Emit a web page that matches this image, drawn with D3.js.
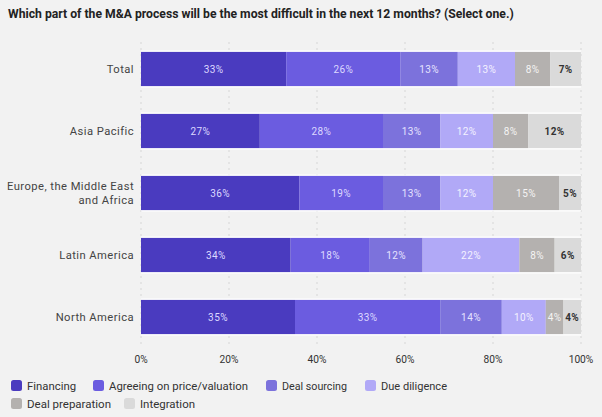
<!DOCTYPE html>
<html><head><meta charset="utf-8">
<script src="https://cdn.jsdelivr.net/npm/d3@7"></script>
<style>
body{margin:0;background:#f2f2f2;}
svg{display:block;font-family:Roboto, "Noto Sans", sans-serif;}
</style></head><body>
<svg id="c" width="602" height="417"></svg>
<script>
const categories = ["Total","Asia Pacific","Europe, the Middle East|and Africa","Latin America","North America"];
const seriesNames = ["Financing","Agreeing on price/valuation","Deal sourcing","Due diligence","Deal preparation","Integration"];
const financing = [33,27,36,34,35];
const agreeing = [26,28,19,18,33];
const sourcing = [13,13,13,12,14];
const diligence = [13,12,12,22,10];
const preparation = [8,8,15,8,4];
const integration = [7,12,5,6,4];
const ticks = [0,20,40,60,80,100];
const colors = ["#4a3bbf","#6b5ce0","#7c72dc","#b1a9f7","#b4b1af","#dadada"];
const labelColors = ["#ddd9ff","#ddd9ff","#e6e3ff","#f4f2ff","#f4f4f4","#333"];

const svg = d3.select("#c");
const m = {left:141, right:21};
const W = 602;
const x = d3.scaleLinear().domain([0,100]).range([m.left, W-m.right]);
const y = d3.scaleBand().domain(categories).range([38, 348]).paddingInner(0.44).paddingOuter(0.22);

svg.append("text").attr("x",8).attr("y",18).attr("font-size",12.2).attr("font-weight","bold")
  .attr("fill","#222").text("Which part of the M&A process will be the most difficult in the next 12 months? (Select one.)");

// grid
svg.append("g").selectAll("line").data(ticks).join("line")
  .attr("x1",d=>x(d)).attr("x2",d=>x(d)).attr("y1",42).attr("y2",346)
  .attr("stroke","#d6d6d6").attr("stroke-width",1).attr("stroke-dasharray","2,4");

const data = categories.map((c,i)=>({cat:c, Financing:financing[i], "Agreeing on price/valuation":agreeing[i], "Deal sourcing":sourcing[i], "Due diligence":diligence[i], "Deal preparation":preparation[i], Integration:integration[i]}));
const stack = d3.stack().keys(seriesNames)(data);

const g = svg.append("g");
stack.forEach((s,si)=>{
  const gg = g.append("g");
  gg.selectAll("rect").data(s).join("rect")
    .attr("x",d=>x(d[0])).attr("width",d=>x(d[1])-x(d[0]))
    .attr("y",d=>y(d.data.cat)).attr("height",y.bandwidth())
    .attr("fill",colors[si]);
  gg.selectAll("text").data(s).join("text")
    .attr("x",d=>(x(d[0])+x(d[1]))/2).attr("y",d=>y(d.data.cat)+y.bandwidth()/2+3.5)
    .attr("text-anchor","middle").attr("font-size",10).attr("letter-spacing",0.4)
    .attr("font-weight", si===5?"bold":"normal")
    .attr("fill",labelColors[si]).text(d=>(d[1]-d[0])+"%");
});
// white edge lines
g.selectAll("line.edge").data(categories).join("line")
  .attr("x1",x(0)).attr("x2",x(100)).attr("y1",d=>y(d)-0.5).attr("y2",d=>y(d)-0.5)
  .attr("stroke","#fff").attr("stroke-width",1.2);
g.selectAll("line.edge2").data(categories).join("line")
  .attr("x1",x(0)).attr("x2",x(100)).attr("y1",d=>y(d)+y.bandwidth()+0.5).attr("y2",d=>y(d)+y.bandwidth()+0.5)
  .attr("stroke","#fff").attr("stroke-width",1.2);

// category labels
const cl = svg.append("g").selectAll("text").data(categories).join("text")
  .attr("text-anchor","end").attr("font-size",11.2).attr("letter-spacing",0.45).attr("fill","#444");
cl.each(function(d){
  const parts = d.split("|");
  const t = d3.select(this);
  const cy = y(d)+y.bandwidth()/2;
  parts.forEach((p,i)=>{
    t.append("tspan").attr("x",134).attr("y",cy+4+(i-(parts.length-1)/2)*14).text(p);
  });
});

// x axis labels
svg.append("g").selectAll("text").data(ticks).join("text")
  .attr("x",d=>x(d)).attr("y",363).attr("text-anchor","middle").attr("font-size",10.2)
  .attr("fill","#333").text(d=>d+"%");

// legend
const legRows = [[0,1,2,3],[4,5]];
const legX = [[11,93,266,365],[11,124]];
const legW = [[49,139,65,66],[84,55]];
legRows.forEach((row,ri)=>{
  row.forEach((si,k)=>{
    const lx = legX[ri][k], ly = 380+ri*18;
    svg.append("rect").attr("x",lx).attr("y",ly).attr("width",11).attr("height",11).attr("rx",2.5).attr("fill",colors[si]);
    svg.append("text").attr("x",lx+16).attr("y",ly+10).attr("font-size",11.5).attr("fill","#333")
      .attr("textLength",legW[ri][k]).attr("lengthAdjust","spacingAndGlyphs").text(seriesNames[si]);
  });
});
</script></body></html>
